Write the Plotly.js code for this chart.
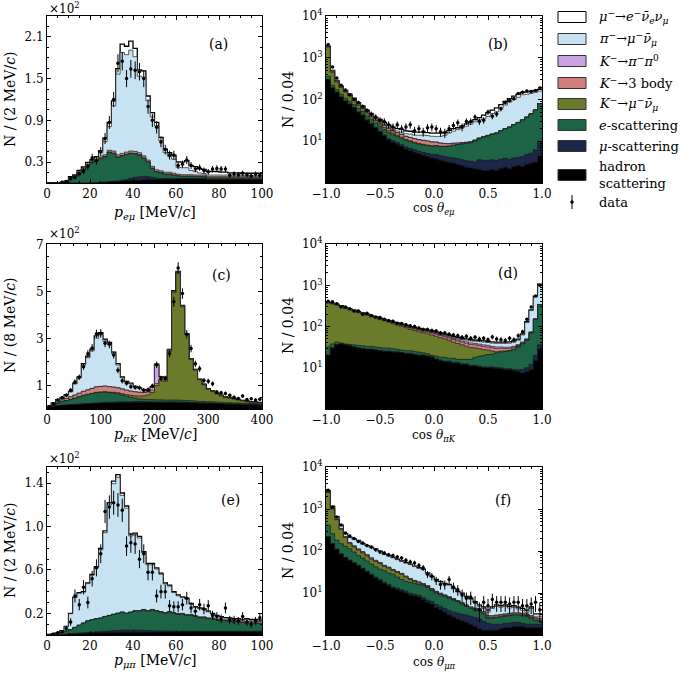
<!DOCTYPE html>
<html><head><meta charset="utf-8">
<script src="https://cdn.plot.ly/plotly-3.0.1.min.js"></script>
<style>html,body{margin:0;padding:0;background:#fff}</style>
</head><body><div id="chart" style="width:690px;height:673px"></div>
<script>
// ---------- Panel (a): p_e-mu, 2 MeV/c bins, 0-100 ----------
const had_a=[0,0,0,0,0,0,0,0,0,0, 0,0.5,1,1,1.5,2,2,2.5,3,3.5, 4,4,4.5,5,5,5,5,5.5,5.5,5.5, 6,6,6,6,6,6,6,5,5,5, 5,5,5,5,5,5,5,5,5,5];
const mu_a=[0,0,0,0,0,0,0,0,0,0, 0,0,0,0.5,0.5,0.5,1,1.5,2,3, 4,5,5,4,3,2,1.5,1,1,0.5, 0.5,0.5,0.5,0.5,0.5,0.5,0.5,0.5,0.5,0.5, 0.5,0.5,0.5,0.5,0.5,0.5,0.5,0.5,0.5,0.5];
const e_a=[0,0,0,0.5,2,7,9,14,19,24, 29,31,34,36,42,40,34,35,36,36, 34,31,26,21,13,9,8,6,6,5, 3.5,3,3,3,2.5,2.5,2.5,1.5,1.5,1.5, 1.5,1.5,1.5,1.5,1.5,1.5,1.5,1.5,1.5,1.5];
const km_a=[0,0,0,0,0,0,0,0,0,0, 0.5,0.5,0.5,0.5,0.5,0.5,0.5,0.5,0.5,0.5, 0.5,0.5,0.5,0.5,0.5,0.5,0.5,0.5,0.5,0.5, 0.5,0.5,0.5,0.5,0.5,0.5,0.5,0.5,0.5,0.5, 0.5,0.5,0.5,0.5,0.5,0.5,0.5,0.5,0.5,0.5];
const k3_a=[0,0,0,0,0,0.5,0.5,1,1,1.5, 2,2,2,2.5,2.5,3,3,3,3,3, 3,3,3,2.5,2.5,2.5,2.5,2.5,2.5,2.5, 2,2,2,2,2,2,2,2,2,2, 2,2,2,2,2,2,2,2,2,2];
const pi_a=[0,0,0,0.2,0.3,0.5,0.5,1,1,1, 1,2,6,19,34,65,116,145,140,145, 136,110,113,85,71,63,43,28,23,20, 10,10,10,6,5,3,2,2,2,2, 2,2,2,2,2,1.5,1.5,1.5,1.5,1.5];
const mue_a=[0,0,0,0.3,0.5,1,1.5,2,2,3, 1,2,3,5,6,7,8,12,12,13, 12,9,9,7,6,5,5,5,5,6, 8,8,10,7,7,6,6,5,5,5, 4,4,3,3,3,3,3,3,3,3];
const data_a=[null,null,null,1,2,6,8,13,17,24, 36,32,45,64,87,120,172,175,150,164, 162,160,150,110,90,80,59,48,40,40, 25,27,33,25,20,22,18,16,20,21, 20,20,11,13,12,14,12,10,13,11];

// ---------- Panel (b): cos theta_e-mu, 0.04 bins ----------
const had_b=[300,190,150,115,92,78,64,50,42,32, 26,21,17,13.5,11,9.5,8.5,7.5,6.5,6, 5.5,5,4.6,4.3,4,3.8,3.5,3.3,3.1,3, 2.8,2.6,2.4,2.3,2.2,2.1,2,2,2.1,2, 2.2,2.4,2.2,2.5,2.6,2.5,2.8,3,3.2,4.5];
const mu_b=[0.5,0.5,0.5,0.5,0.5,0.5,0.5,0.5,0.5,0.5, 0.5,0.5,0.5,0.5,0.5,0.8,0.8,0.8,0.8,0.8, 0.8,0.8,0.8,0.8,0.8,1,1,1,1,1, 1,1,1,1,1,1.5,1.5,1.5,1.5,1.5, 1.5,1.5,1.5,1.5,1.5,1.8,2,2.2,3,5.5];
const e_b=[60,30,22,18,15,13,11,10,9,8, 7,6,5.5,5,4.5,4,3.8,3.5,3.2,3, 2.8,2.8,2.8,2.8,2.8,3,3,3.2,3.5,4, 4.5,5,5.5,6,7,8,9,10,11,12, 14,16,18,21,24,28,33,40,50,70];
const km_b=[1450,230,90,60,43,31,21,12,9,7, 5,4,3,2.5,2,1.5,1,0.8,0.6,0.5, 0.4,0.3,0.3,0.2,0.2,0.1,0.1,0.1,0.1,0.1, 0.1,0.1,0.1,0.1,0.1,0.1,0.1,0.1,0.1,0.1, 0.1,0.1,0.1,0.1,0.1,0.1,0.1,0.1,0.1,0.1];
const k3_b=[50,25,14,8,7,6,5,5,5,4, 3.5,3,3,2.5,2.5,2,2,2,2,2, 2,2,2,2,1.8,1.6,1.4,1.2,1,0.8, 0.6,0.5,0.4,0.3,0.3,0.2,0.2,0.2,0.2,0.2, 0.1,0.1,0.1,0.1,0.1,0.1,0.1,0.1,0.1,0.1];
const kpp_b=[20,12,7,5,4,3,3,3,2,1.5, 1,0.5,0.3,0.2,0.1,0.1,0.1,0.1,0.1,0.1, 0.1,0.1,0.1,0.1,0.1,0.1,0.1,0.1,0.1,0.1, 0.1,0.1,0.1,0.1,0.1,0.1,0.1,0.1,0.1,0.1, 0.1,0.1,0.1,0.1,0.1,0.1,0.1,0.1,0.1,0.1];
const pi_b=[10,6,3,2,2,1.5,1.5,2,1.5,1.5, 1.5,1.5,1.5,1.5,1.5,1.5,1.5,2,2,2.5, 2.5,3,3.5,3.5,3.5,3.5,4,5,7,8.5, 10,11.5,13.5,16,18.5,20.5,21.5,25.5,31,35, 44,54,65,75,85,98,96,95,92,80];
const mue_b=[10,6,3,2,2,1.5,1.5,2,1.5,1, 1,1,2.5,2.5,2.5,2.5,2.5,2.5,2.5,2.5, 2.5,2.5,2.5,2.5,2.5,2.5,2.5,2.5,2.5,2.5, 2,2.5,3,3.5,4,4.5,8,9,10,12, 14,16,18,20,22,17.5,18,18,17,15];
const data_b=[2100,600,330,220,170,130,100,85,68,55, 45,38,32,30,25,22,25,20,22,25, 18,20,17,21,22,20,17,16,20,24, 28,22,30,30,38,30,32,50,40,45, 60,85,95,105,140,150,160,155,165,190];

// ---------- Panel (c): p_pi-K, 8 MeV/c bins, 0-400 ----------
const had_c=[5,10,14,16,17,18,19,20,21,22, 23,24,25,26,26,26,27,27,27,27, 28,28,28,28,28,28,28,28,28,28, 28,27,27,26,26,25,25,24,24,23, 22,21,21,20,20,19,19,18,18,17];
const mu_c=[0,0,0,0,0,0.5,0.5,1,1,1, 1.5,2,2,2.5,3,3,3.5,4,4,4, 4,3.5,3,3,2.5,2,2,2,2,2, 2,2,1.5,1.5,1.5,1,1,1,1,1, 1,1,1,1,1,1,1,1,1,1];
const e_c=[1,5,10,15,19,22.5,26.5,31,36,39, 41.5,44,44,43.5,41,39,34.5,29,24,19, 14,11.5,10,9,9.5,9,9,8,8,8, 8,8,7.5,7.5,6.5,6,6,6,5.5,5.5, 5,5,5,4.5,4.5,4,4,4,4,4];
const km_c=[0,0,0,0,0,0,0,0,0,0, 0.5,1,1,1.5,2,3,4,5,6,8, 10,12,15,20,30,61,81,80,207,457, 540,398,280,175,131,92,71,53,43.5,34.5, 28,21,19,16.5,12.5,10,7,5,4,3];
const k3_c=[1,3,5,7,9,11,13,15,17,19, 21,23,24,24,23,22,21,20,19,18, 17,16,14,12,10,8,7,6,5,4, 3,2.5,2,2,1.5,1,1,1,1,1, 1,1,1,1,1,1,1,1,1,1];
const kpp_c=[0,0,0,0,0,0,0,0,0,0, 0,0,0,0,0,0,0,0,0,0, 0,0.5,1,2,12,80,9,9,3,3, 3,2,2,1.5,1.5,1,1,1,1,1, 1,1,1,1,1,1,1,1,1,1];
const pi_c=[4,7,10,8,14,21,48,66,112,137, 160,207,219,190,180,142,97,48,34,31, 21,16,9,3,2,2,1,1,0.5,0.5, 0.5,0.5,0.5,0.5,0.5,0.5,0.5,0.5,0.5,0.5, 0.5,0.5,0.5,0.5,0.5,0.5,0.5,0.5,0.5,0.5];
const mue_c=[1,1,1,1,2,2,3,4,6,7, 7.5,10,10,9.5,8,7,6,4,3,3, 2,2,2,1,1,1,1,1,0.5,0.5, 0.5,0.5,0.5,0.5,0.5,0.5,0.5,0.5,0.5,0.5, 0.5,0.5,0.5,0.5,0.5,0.5,0.5,0.5,0.5,0.5];
const data_c=[10,22,38,48,58,80,115,135,180,235, 260,320,322,280,275,230,165,120,110,95, 92,90,80,82,98,188,130,130,235,456, 600,491,318,257,192,171,121,118,107,72, 69,66,58,50,45,55,40,44,38,41];

// ---------- Panel (d): cos theta_pi-K ----------
const had_d=[20,30,36,38,36,34,32,30,29,28, 28,27,26,25,25,24,24,23,22,22, 21,20,20,19,18,16,15,14,14,13, 13,12,12,11,11,10.5,10,10,10,9.6, 9.5,9,9,8.5,8,7.5,8,9,15,28];
const mu_d=[0.5,0.5,0.5,0.5,0.5,0.5,0.5,0.5,0.5,0.5, 0.5,0.5,0.5,0.5,0.5,0.5,0.5,0.5,0.5,0.5, 0.5,0.5,0.5,0.5,0.5,0.5,0.5,0.5,0.5,0.5, 0.5,0.5,0.5,0.5,0.5,0.5,0.5,0.5,0.5,0.5, 0.5,0.5,0.5,0.5,1,1.5,2,3,5,8];
const e_d=[11.5,7.5,5.5,1.5,1.5,2.5,3.5,4.5,4.5,4.5, 4.5,4.5,4.5,4.5,4.5,4.5,3.5,3.5,3.5,3.5, 3.5,3.5,2.5,2.5,1.5,2.5,2.5,3.5,2.5,3.5, 2.5,3.5,3.5,4.5,6.5,8,9.5,10.5,11,12.9, 14,15.5,16.5,19,23,29,36,58,130,304];
const km_d=[338,312,289,263,236,217,199,182,168,155, 140,131,117,108,98,88.5,81,74.5,68,59.5, 55,51,48,45,42.5,39.5,36,32.5,29.5,25, 23,20,17.5,15,12.5,10,7.5,6,4,1.5, 1.5,0.5,0.2,0.3,1,1,1,1,1,1];
const k3_d=[8,8,7,7,6,6,5,5,5,4, 4,4,4,4,4,4.5,5,5.5,6,6.5, 7,7,7,7,7,7,7,6.5,6.5,6.5, 6,6,6,6,5.5,5.5,5.5,5,5,5, 4.5,4,3.5,3,1.6,1.5,1.5,1.5,1.5,1.5];
const kpp_d=[5,5,5,4,4,4,4,3,3,3, 3,3,3,3,3,3,3,3,3,3, 3,3,3,3,3,3,3,3,3,3, 3,3,3,3,3,3,3,3,2.5,2.5, 2,2,2,2,2,2,2,2,2,2];
const pi_d=[2,2,2,2,2,2,2,2,2,2, 2,2,2,2,2,2,2,2,2,2, 2,2,2,2,2.5,2.5,3,3,3,3.5, 4,4,4.5,5,5,5.5,6,6,6.5,7, 7,7.5,8,8.5,10,20,75,170,370,680];
const mue_d=[5,5,5,4,4,4,4,3,3,3, 3,3,3,3,3,3,3,3,3,3, 3,3,3,3,3,3,3,3,3,3, 3,3,3,3,3,3,3,3,3,3, 3,3,3,3,3,4,6,10,20,40];
const data_d=[410,400,360,300,300,270,240,240,200,210, 185,170,165,150,140,135,120,118,110,105, 100,92,85,85,80,78,70,70,65,62, 60,55,58,52,55,50,52,48,56,50, 48,46,52,48,60,75,150,300,550,1000];

// ---------- Panel (e): p_mu-pi, 2 MeV/c bins, 0-100 ----------
const had_e=[0,0,0,0.3,0.5,0.8,1,1.2,1.4,1.6, 1.8,2,2,2.2,2.2,2.4,2.4,2.5,2.5,2.5, 2.6,2.6,2.6,2.7,2.7,2.7,2.8,2.8,2.8,2.8, 2.8,2.9,2.9,2.9,3,3,3,3,3,3, 3,3,3,3,3,3,3,3,3,3];
const mu_e=[0,0,0,0,0.2,0.3,0.5,0.5,0.6,0.7, 0.8,1,1.1,1.2,1.4,1.6,1.8,2,2,2, 1.9,1.8,1.6,1.4,1.2,1,1,0.9,0.8,0.8, 0.7,0.7,0.6,0.6,0.6,0.5,0.5,0.5,0.5,0.5, 0.5,0.5,0.5,0.5,0.5,0.5,0.5,0.5,0.5,0.5];
const e_e=[0.5,1,1.5,2.2,2.8,3.9,5.5,7.3,9,10.7, 11.4,12,12.4,13.6,14.4,15,15.8,16.5,15.5,16.5, 17.5,17.6,18.8,17.9,19.1,18.3,17.2,16.3,17.4,16.4, 15.5,15.6,14.6,14.6,13.5,12.5,12.5,11.5,11.5,10.5, 9.5,9.5,9,8.5,8.5,8,7.5,7.5,7.5,7];
const km_e=[0,0,0,0,0,0,0,0,0,0, 0,0,0,0,0,0,0,0,0,0, 0.3,0.3,0.3,0.3,0.3,0.3,0.3,0.3,0.3,0.3, 0.3,0.3,0.3,0.3,0.3,0.3,0.3,0.3,0.3,0.3, 0.3,0.3,0.3,0.3,0.3,0.3,0.3,0.3,0.3,0.3];
const k3_e=[0,0,0,0,0,0,0,0,0,0, 0.2,0.2,0.2,0.2,0.2,0.2,0.2,0.2,0.2,0.2, 0.3,0.3,0.3,0.3,0.3,0.3,0.3,0.3,0.3,0.3, 0.5,0.5,0.5,0.5,0.5,0.5,0.5,0.5,0.5,0.5, 0.8,0.8,1,1,1.2,1.2,1.4,1.5,1.5,1.5];
const pi_e=[0,0,0.5,1.5,4.3,14.7,27.5,29.5,28.5,34.4, 41,46.8,63,77.2,101.8,120.4,125.3,107.6,96.8,70.2, 69.8,66.9,52.1,42.2,41.2,38.3,34.4,26.5,23.5,18.6, 16.4,14.4,14.4,9.5,7.5,7.5,6.6,5.6,3.6,2.7, 2.4,1.5,1.5,1.2,1,1,1.8,1,1,1.2];
const mue_e=[0,0,0,0,0.2,0.3,0.5,0.5,0.5,0.6, 0.8,1,1.3,1.6,2,2.4,2.5,2.2,2,1.6, 1.6,1.5,1.3,1.2,1.2,1.1,1,0.9,0.9,0.8, 0.8,0.8,0.8,0.7,0.7,0.7,0.6,0.6,0.6,0.5, 0.5,0.5,0.5,0.5,0.5,0.5,0.5,0.5,0.5,0.5];
const data_e=[null,1,2,3,6,12,36,28,44,30, 52,62,75,114,118,122,120,115,82,85, 84,70,75,58,58,36,40,40,27,26, 26,28,34,25,22,28,24,27,18,17, 15,25,14,14,13,17,12,10,13,16];

// ---------- Panel (f): cos theta_mu-pi ----------
const had_f=[220,150,110,85,70,60,52,45,38,32, 27,23,20,17,15,13,12,11,10,9, 8.5,8,7,6,5.5,4.5,4,3.5,3,2.7, 2.4,2.2,2,1.8,1.6,1.4,1.3,1.3,1.3,1.3, 1.4,1.5,1.5,1.6,1.6,1.6,1.5,1.5,1.5,1.5];
const mu_f=[1,1,1,1,1,1,1,1,1,1, 1,1,1,1,1,1,1,1,1,0.8, 0.8,0.8,0.8,0.8,0.8,0.8,0.8,0.8,0.8,0.8, 0.9,0.9,1,1,1,1,0.8,0.6,0.5,0.5, 0.4,0.4,0.4,0.4,0.4,0.3,0.3,0.3,0.3,0.3];
const e_f=[199,109,69,64,59,52,42,32,29,25, 21,18,16,16,14,14,11,9,8,8.2, 7.7,7.2,7.2,6.7,5.2,4.7,4.2,4,3.7,3.3, 2.9,2.4,1.8,1.5,1.4,1.4,1.1,0.6,0.7,0.8, 0.9,0.9,1,1,1,1,1,0.7,0.4,0.3];
const km_f=[2080,740,380,180,80,37,30,27,22,18, 15,14,13,9,9,6.5,7,7,5,3, 2,1.5,1,0.8,0.6,0.5,0.4,0.3,0.3,0.2, 0.1,0.1,0.1,0.1,0.1,0.1,0.1,0.1,0.1,0.1, 0.1,0.1,0.1,0.1,0.1,0.1,0.1,0.1,0.1,0.1];
const k3_f=[30,15,10,8,7,6,5.5,5,4.5,4, 3.5,3,2.5,2,1.8,1.5,1.3,1.1,1,0.9, 0.8,0.7,0.6,0.5,0.5,0.4,0.4,0.3,0.3,0.3, 0.2,0.2,0.2,0.2,0.2,0.2,0.2,0.2,0.2,0.2, 0.2,0.2,0.2,0.2,0.2,0.2,0.2,0.2,0.2,0.2];
const kpp_f=[20,10,7,5,4,4,3.5,3,2.5,2, 1.5,1.2,1,0.8,0.6,0.5,0.4,0.3,0.3,0.2, 0.2,0.2,0.2,0.2,0.2,0.1,0.1,0.1,0.1,0.1, 0.1,0.1,0.1,0.1,0.1,0.1,0.1,0.1,0.1,0.1, 0.1,0.1,0.1,0.1,0.1,0.1,0.1,0.1,0.1,0.1];
const pi_f=[120,130,73,64,33,50,56,62.5,49,49.5, 50.8,48.8,43.8,36.9,34.5,32.6,29.6,27.1,26.3,25.6, 22.8,20.5,19.2,14.2,11.5,9.4,8.5,7.5,7.3,5.2, 4,3.75,2.8,2.4,1.4,0.6,0.7,0.6,1.4,1.8, 1.5,1.6,1.1,1.2,0.8,0.6,0.3,1.4,0.2,0.3];
const mue_f=[30,15,10,8,6,5,5,4.5,4,3.5, 3.2,3,2.7,2.3,2.1,1.9,1.7,1.5,1.4,1.3, 1.2,1.1,1,0.8,0.7,0.6,0.6,0.5,0.5,0.4, 0.4,0.35,0.3,0.4,0.4,0.4,0.4,0.4,0.4,0.4, 0.4,0.4,0.4,0.4,0.4,0.4,0.4,0.4,0.4,0.4];
const data_f=[2800,1100,650,420,270,230,200,170,155,135, 125,108,95,90,82,78,72,68,60,55, 52,45,40,28,25,20,16,16,21,14, 12,9,7.5,8,6,4,6,5,7,6, 6,6,5.5,6,6,5,5,5.5,6,4];

// ---------- Labels ----------
const legendLabels=[
 '<i>μ</i><sup>−</sup>→<i>e</i><sup>−</sup><i>ν̄</i><sub><i>e</i></sub><i>ν</i><sub><i>μ</i></sub>',
 '<i>π</i><sup>−</sup>→<i>μ</i><sup>−</sup><i>ν̄</i><sub><i>μ</i></sub>',
 '<i>K</i><sup>−</sup>→<i>π</i><sup>−</sup><i>π</i><sup>0</sup>',
 '<i>K</i><sup>−</sup>→3 body',
 '<i>K</i><sup>−</sup>→<i>μ</i><sup>−</sup><i>ν̄</i><sub><i>μ</i></sub>',
 '<i>e</i>-scattering',
 '<i>μ</i>-scattering',
 'hadron<br>scattering'
];
const legendKeys=['mue','pi','kpp','k3','km','e','mu','had'];
const panelLabels=['(a)','(b)','(c)','(d)','(e)','(f)'];
const xTitles=['<i>p</i><sub><i>eμ</i></sub> [MeV/<i>c</i>]','cos <i>θ</i><sub><i>eμ</i></sub>',
 '<i>p</i><sub><i>πK</i></sub> [MeV/<i>c</i>]','cos <i>θ</i><sub><i>πK</i></sub>',
 '<i>p</i><sub><i>μπ</i></sub> [MeV/<i>c</i>]','cos <i>θ</i><sub><i>μπ</i></sub>'];
const yTitles=['N / (2 MeV/<i>c</i>)','N / 0.04','N / (8 MeV/<i>c</i>)','N / 0.04','N / (2 MeV/<i>c</i>)','N / 0.04'];

// ---------- Drawing ----------
const W=690,H=673, F='DejaVu Serif';
const PX=x=>x/W, PY=y=>1-y/H;
const ORDER=['had','mu','e','km','k3','kpp','pi','mue'];
const FILL={had:'#000000',mu:'#1b2648',e:'#1d6345',km:'#6b7b2c',k3:'#d27e7d',kpp:'#cda4e3',pi:'#c6e2f3',mue:'#ffffff'};

const panels=[
 {xa:'x', ya:'y', lo:0,hi:100,log:false,data:data_a,comps:{had:had_a,mu:mu_a,e:e_a,km:km_a,k3:k3_a,pi:pi_a,mue:mue_a}},
 {xa:'x2',ya:'y2',lo:-1,hi:1,log:true,data:data_b,comps:{had:had_b,mu:mu_b,e:e_b,km:km_b,k3:k3_b,kpp:kpp_b,pi:pi_b,mue:mue_b}},
 {xa:'x3',ya:'y3',lo:0,hi:400,log:false,data:data_c,comps:{had:had_c,mu:mu_c,e:e_c,km:km_c,k3:k3_c,kpp:kpp_c,pi:pi_c,mue:mue_c}},
 {xa:'x4',ya:'y4',lo:-1,hi:1,log:true,data:data_d,comps:{had:had_d,mu:mu_d,e:e_d,km:km_d,k3:k3_d,kpp:kpp_d,pi:pi_d,mue:mue_d}},
 {xa:'x5',ya:'y5',lo:0,hi:100,log:false,data:data_e,comps:{had:had_e,mu:mu_e,e:e_e,km:km_e,k3:k3_e,pi:pi_e,mue:mue_e}},
 {xa:'x6',ya:'y6',lo:-1,hi:1,log:true,data:data_f,comps:{had:had_f,mu:mu_f,e:e_f,km:km_f,k3:k3_f,kpp:kpp_f,pi:pi_f,mue:mue_f}}
];

const traces=[];
panels.forEach(p=>{
  const n=p.data.length, w=(p.hi-p.lo)/n;
  const edges=[]; for(let i=0;i<=n;i++) edges.push(p.lo+i*w);
  const centers=[]; for(let i=0;i<n;i++) centers.push(p.lo+(i+0.5)*w);
  const levels=[]; let run=new Array(n).fill(0);
  ORDER.forEach(k=>{const c=p.comps[k]; run=run.map((v,i)=>v+(c?c[i]:0)); levels.push(run.slice());});
  for(let j=ORDER.length-1;j>=0;j--){
    const k=ORDER[j]; if(!p.comps[k]) continue;
    const y=levels[j].concat([levels[j][n-1]]);
    traces.push({type:'scatter',mode:'lines',x:edges,y:y,xaxis:p.xa,yaxis:p.ya,
      line:{shape:'hv',color:k==='mue'?'#000000':'#1a1a1a',width:k==='mue'?1.3:0.7},
      fill:'tozeroy',fillcolor:FILL[k],hoverinfo:'skip',showlegend:false});
  }
  traces.push({type:'scatter',mode:'markers',x:centers,y:p.data,xaxis:p.xa,yaxis:p.ya,
    marker:{color:'#000',size:3.5},
    error_y:{type:'data',array:p.data.map(v=>v==null?0:Math.sqrt(v)),color:'#000',thickness:1,width:0},
    showlegend:false,hoverinfo:'skip'});
});

const colDom=[[47/W,262/W],[326/W,542/W]];
const rowDom=[[PY(183),PY(16)],[PY(409),PY(244)],[PY(635),PY(467)]];
const common={ticks:'inside',ticklen:4,tickwidth:1,tickcolor:'#000',showline:true,linecolor:'#000',linewidth:1,
  mirror:'ticks',showgrid:false,zeroline:false,tickfont:{family:F,size:12,color:'#000'}};
const logMinor=[]; for(let d=0;d<4;d++) for(let k=2;k<10;k++) logMinor.push(k*Math.pow(10,d));

const layout={width:W,height:H,autosize:false,margin:{l:0,r:0,t:0,b:0},paper_bgcolor:'#fff',plot_bgcolor:'#fff',
  showlegend:false,font:{family:F,color:'#000'},annotations:[],shapes:[]};

const linY=[
 {range:[0,240],tickvals:[30,90,150,210],ticktext:['0.3','0.9','1.5','2.1'],minor:15},
 {range:[0,702],tickvals:[100,300,500,700],ticktext:['1','3','5','7'],minor:50},
 {range:[0,155],tickvals:[20,60,100,140],ticktext:['0.2','0.6','1.0','1.4'],minor:10}
];
const pTicks=[{dtick:20,minor:5},{dtick:100,minor:25},{dtick:20,minor:5}];

panels.forEach((p,idx)=>{
  const r=Math.floor(idx/2), c=idx%2;
  const xk='xaxis'+(idx?idx+1:''), yk='yaxis'+(idx?idx+1:'');
  const xs=p.xa, ys=p.ya;
  if(!p.log){
    const pt=pTicks[r];
    layout[xk]=Object.assign({},common,{domain:colDom[c],anchor:ys,range:[p.lo,p.hi],tickmode:'linear',tick0:p.lo,dtick:pt.dtick,
      minor:{ticks:'inside',ticklen:2,tickcolor:'#000',dtick:pt.minor,tick0:p.lo,showgrid:false}});
    const ly=linY[r];
    layout[yk]=Object.assign({},common,{domain:rowDom[r],anchor:xs,range:ly.range,tickmode:'array',tickvals:ly.tickvals,ticktext:ly.ticktext,
      minor:{ticks:'inside',ticklen:2,tickcolor:'#000',tickmode:'linear',dtick:ly.minor,tick0:0,showgrid:false}});
  } else {
    layout[xk]=Object.assign({},common,{domain:colDom[c],anchor:ys,range:[-1,1],tickmode:'linear',tick0:-1,dtick:0.5,tickformat:'.1f',
      minor:{ticks:'inside',ticklen:2,tickcolor:'#000',dtick:0.1,tick0:-1,showgrid:false}});
    layout[yk]=Object.assign({},common,{domain:rowDom[r],anchor:xs,type:'log',range:[0,4.003],tickmode:'array',
      tickvals:[10,100,1000,10000],ticktext:['10<sup>1</sup>','10<sup>2</sup>','10<sup>3</sup>','10<sup>4</sup>'],
      minor:{ticks:'inside',ticklen:2,tickcolor:'#000',tickmode:'array',tickvals:logMinor,showgrid:false}});
  }
});

const A=(x,y,text,opt)=>layout.annotations.push(Object.assign({xref:'paper',yref:'paper',x:PX(x),y:PY(y),text:text,showarrow:false,
  font:{family:F,size:13,color:'#000'},xanchor:'center',yanchor:'middle'},opt||{}));

// panel labels
const plPos=[[218,44],[498,44],[222,275],[508,273],[230,500],[503,500]];
panelLabels.forEach((t,i)=>A(plPos[i][0],plPos[i][1],t,{font:{family:F,size:14,color:'#000'}}));
// x10^2 multipliers
[[8],[233],[458]].forEach(v=>A(47,v[0],'×10<sup>2</sup>',{xanchor:'left',font:{family:F,size:12,color:'#000'}}));
// axis titles
const xtPos=[[155,213],[434,209],[155,435],[434,436],[155,661],[434,663]];
xTitles.forEach((t,i)=>A(xtPos[i][0],xtPos[i][1],t,{font:{family:F,size:i%2?12:14,color:'#000'}}));
const ytPos=[[10,100],[288,100],[10,326],[288,326],[10,551],[288,551]];
yTitles.forEach((t,i)=>A(ytPos[i][0],ytPos[i][1],t,{textangle:-90,font:{family:F,size:14,color:'#000'}}));

// legend
const legY=[17,39,61,83,104,125,146,175];
legendKeys.forEach((k,i)=>{
  layout.shapes.push({type:'rect',xref:'paper',yref:'paper',x0:PX(558),x1:PX(586),y0:PY(legY[i]+5.5),y1:PY(legY[i]-5.5),
    fillcolor:FILL[k],line:{color:k==='mue'?'#000':'#333',width:1}});
  A(597,legY[i],legendLabels[i],{xanchor:'left',align:'left',font:{family:F,size:13,color:'#000'}});
});
layout.shapes.push({type:'line',xref:'paper',yref:'paper',x0:PX(572),x1:PX(572),y0:PY(195),y1:PY(209),line:{color:'#000',width:1}});
layout.shapes.push({type:'circle',xref:'paper',yref:'paper',x0:PX(570.5),x1:PX(573.5),y0:PY(203.5),y1:PY(200.5),fillcolor:'#000',line:{color:'#000',width:0.5}});
A(597,202,'data',{xanchor:'left',align:'left',font:{family:F,size:13,color:'#000'}});

Plotly.newPlot('chart',traces,layout,{staticPlot:true,displayModeBar:false});
</script></body></html>
